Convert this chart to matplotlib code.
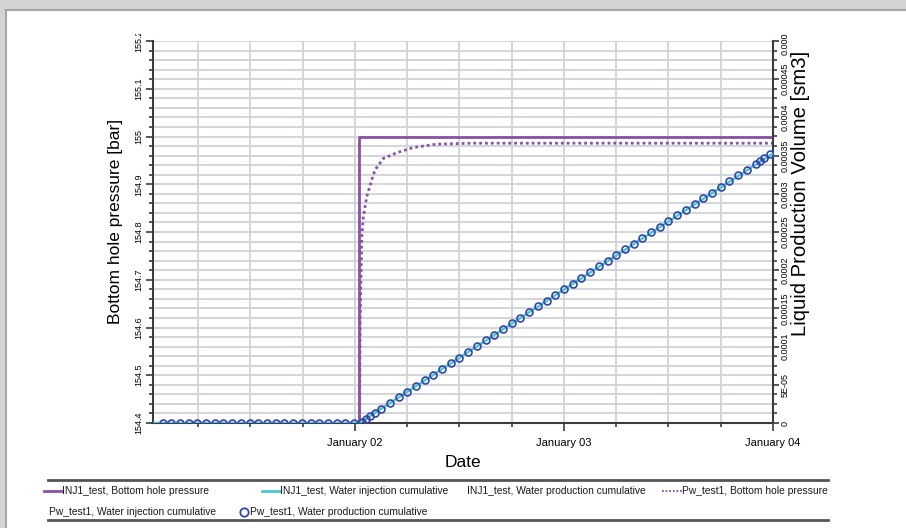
import datetime as dt
import matplotlib
matplotlib.use("Agg")
import matplotlib.pyplot as plt
import matplotlib.dates as mdates
from matplotlib.ticker import MultipleLocator, FixedLocator, FixedFormatter
from matplotlib.lines import Line2D
from matplotlib.patches import Rectangle
from matplotlib.transforms import Bbox, TransformedBbox

plt.rcParams['font.family'] = ['Liberation Sans', 'DejaVu Sans']

# hours relative to January 02 00:00
start_h = -23.25
end_h = 48.0

# INJ1_test bottom hole pressure (bar)
inj_bhp_h = [0.5, 0.5, 48.0]
inj_bhp = [154.3, 155.0, 155.0]

# Pw_test1 bottom hole pressure (bar)
pw_bhp_h = [0.5, 0.6, 0.78, 0.96, 1.35, 1.92, 2.3, 3.26, 4.8, 6.7, 9.4, 13.6, 20.0, 30.0, 48.0]
pw_bhp = [154.35, 154.62, 154.79, 154.832, 154.874, 154.909, 154.93, 154.954,
          154.966, 154.977, 154.984, 154.986, 154.986, 154.986, 154.986]

# INJ1_test water injection cumulative (sm3)
inj_cum_h = [-23.25, 0.5, 48.0]
inj_cum = [0.0, 0.0, 0.000353]

# Pw_test1 water production cumulative, report steps (hours, 1e-6 sm3)
prod_h = [-22.1, -21.1, -20.1, -19.1, -18.1, -17.1, -16.1, -15.1, -14.1, -13.1, -12.1,
          -11.1, -10.1, -9.1, -8.1, -7.1, -6.1, -5.1, -4.1, -3.1, -2.1, -1.1, -0.1,
          0.75, 1.25, 1.75, 2.25, 3, 4, 5, 6, 7, 8, 9, 10, 11, 12, 13, 14, 15, 16,
          17, 18, 19, 20, 21, 22, 23, 24, 25, 26, 27, 28, 29, 30, 31, 32, 33, 34,
          35, 36, 37, 38, 39, 40, 41, 42, 43, 44, 45, 46, 46.5, 47, 47.7]
prod_u = [0] * 23 + [
    1.9, 5.6, 9.3, 13.0, 18.6, 26.1, 33.5, 41.0, 48.4, 55.9, 63.3, 70.8, 78.2,
    85.7, 93.1, 100.6, 108.0, 115.5, 122.9, 130.4, 137.9, 145.3, 152.8, 160.2,
    167.6, 175.1, 182.5, 190.0, 197.4, 204.9, 212.3, 219.8, 227.2, 234.7, 242.1,
    249.6, 257.0, 264.5, 271.9, 279.4, 286.8, 294.3, 301.7, 309.2, 316.6, 324.1,
    331.5, 339.0, 342.7, 346.4, 351.6]

left_ticks = [154.4, 154.5, 154.6, 154.7, 154.8, 154.9, 155.0, 155.1, 155.2]
left_labels = ['154.4', '154.5', '154.6', '154.7', '154.8', '154.9', '155', '155.1', '155.2']
right_ticks = [0, 5e-5, 1e-4, 1.5e-4, 2e-4, 2.5e-4, 3e-4, 3.5e-4, 4e-4, 4.5e-4, 5e-4]
right_labels = ['0', '5E-05', '0.0001', '0.00015', '0.0002', '0.00025', '0.0003',
                '0.00035', '0.0004', '0.00045', '0.0005']

day0 = dt.datetime(2020, 1, 2)


def to_dates(hours):
    return [day0 + dt.timedelta(hours=h) for h in hours]


PURPLE = '#8b4fa6'
CYAN = '#4ec6d6'
NAVY = '#3346a6'
GRID = '#cfd3d6'
AX = '#3c3c3c'

W, H = 906, 528
fig = plt.figure(figsize=(W / 100, H / 100), dpi=100)
fig.patch.set_facecolor('#d4d4d4')
fig.patches.append(Rectangle((5.5 / W, -0.1), 1.2, 1.1 - 9.5 / H,
                             transform=fig.transFigure, facecolor='white',
                             edgecolor='#a6a6a6', linewidth=1.5, zorder=-10))

ax = fig.add_axes([152.5 / W, 105 / H, 620.5 / W, 382 / H])
ax.set_facecolor('none')
ax2 = ax.twinx()

ax.plot(to_dates(inj_bhp_h), inj_bhp, color=PURPLE, lw=2, zorder=3)
ax.plot(to_dates(pw_bhp_h), pw_bhp, color=PURPLE, lw=2, ls=(0, (1, 1.1)), zorder=3)
ax2.plot(to_dates(inj_cum_h), inj_cum, color=CYAN, lw=1.8, zorder=3)
ax2.plot(to_dates(prod_h), [v * 1e-6 for v in prod_u], ls='none', marker='o', ms=5,
         mfc='none', mec=NAVY, mew=1.2, zorder=4)

ax.set_xlim(to_dates([start_h, end_h]))
ax.set_ylim(154.4, 155.2)
ax2.set_ylim(0, 0.0005)

ax.xaxis.set_major_locator(mdates.DayLocator())
ax.xaxis.set_major_formatter(mdates.DateFormatter('%B %d'))
ax.xaxis.set_minor_locator(mdates.HourLocator(byhour=[0, 6, 12, 18]))
ax.yaxis.set_major_locator(FixedLocator(left_ticks))
ax.yaxis.set_major_formatter(FixedFormatter(left_labels))
ax.yaxis.set_minor_locator(MultipleLocator(0.02))
ax2.yaxis.set_major_locator(FixedLocator(right_ticks))
ax2.yaxis.set_major_formatter(FixedFormatter(right_labels))
ax2.yaxis.set_minor_locator(MultipleLocator(1.25e-5))

ax.grid(True, which='both', color=GRID, lw=1.3, zorder=0)
ax.set_axisbelow(True)

for a in (ax, ax2):
    for s in a.spines.values():
        s.set_color(AX)
        s.set_linewidth(1.5)
    a.spines['top'].set_visible(False)
ax.spines['right'].set_visible(False)
ax2.spines['left'].set_visible(False)
ax2.spines['bottom'].set_visible(False)

ax.tick_params(axis='x', which='major', length=6, width=1.2, color=AX, labelsize=8, pad=5)
ax.tick_params(axis='x', which='minor', length=3, width=1.2, color=AX)
ax.tick_params(axis='y', which='major', length=5, width=1.2, color=AX, labelsize=6.5,
               pad=1.5, labelrotation=90)
ax.tick_params(axis='y', which='minor', length=3, width=1.2, color=AX)
ax2.tick_params(axis='y', which='major', length=4, width=1.2, color=AX, labelsize=6.5,
                pad=1.2, labelrotation=90)
ax2.tick_params(axis='y', which='minor', length=3, width=1.2, color=AX)
for lbl in ax.get_yticklabels() + ax2.get_yticklabels():
    lbl.set_va('center')

ax.set_xlabel('Date', fontsize=12.5)
ax.xaxis.set_label_coords(0.5, -0.085)
ax.set_ylabel('Bottom hole pressure [bar]', fontsize=12.5)
ax.yaxis.set_label_coords(-0.048, 0.527)
ax2.set_ylabel('Liquid Production Volume [sm3]', fontsize=14.6)
ax2.yaxis.set_label_coords(1.0285, 0.602)

# legend strip under the chart: handle kind, handle x, text x, row y (pixels)
legend_items = [
    ('solid', 44, 62, 491, 'INJ1_test, Bottom hole pressure'),
    ('cyan', 262, 280, 491, 'INJ1_test, Water injection cumulative'),
    (None, 0, 467, 491, 'INJ1_test, Water production cumulative'),
    ('dotted', 662, 682, 491, 'Pw_test1, Bottom hole pressure'),
    (None, 0, 49, 512, 'Pw_test1, Water injection cumulative'),
    ('circle', 244, 250, 512, 'Pw_test1, Water production cumulative'),
]
for kind, hx, tx, ty, text in legend_items:
    fy = 1 - ty / H
    if kind == 'solid':
        fig.add_artist(Line2D([hx / W, tx / W], [fy, fy], transform=fig.transFigure,
                              color=PURPLE, lw=2))
    elif kind == 'cyan':
        fig.add_artist(Line2D([hx / W, tx / W], [fy, fy], transform=fig.transFigure,
                              color=CYAN, lw=2))
    elif kind == 'dotted':
        fig.add_artist(Line2D([hx / W, tx / W], [fy, fy], transform=fig.transFigure,
                              color=PURPLE, lw=1.3, ls=(0, (1, 1))))
    elif kind == 'circle':
        fig.add_artist(Line2D([hx / W], [fy], transform=fig.transFigure, ls='none',
                              marker='o', ms=6, mfc='none', mec=NAVY, mew=1.3))
    fig.text(tx / W, fy, text, fontsize=7.4, ha='left', va='center', color='#1a1a1a')

for yy in (480, 520):
    fig.add_artist(Line2D([48 / W, 828 / W], [1 - yy / H] * 2,
                          transform=fig.transFigure, color='#555555', lw=2))

# tick labels at the top are cut by the panel edge
fig.canvas.draw()
clip = TransformedBbox(Bbox([[0, 0], [1, 1 - 33.5 / H]]), fig.transFigure)
for lbl in ax.get_yticklabels() + ax2.get_yticklabels():
    lbl.set_clip_box(clip)
    lbl.set_clip_on(True)

fig.savefig('out.png', dpi=100, facecolor=fig.get_facecolor())
